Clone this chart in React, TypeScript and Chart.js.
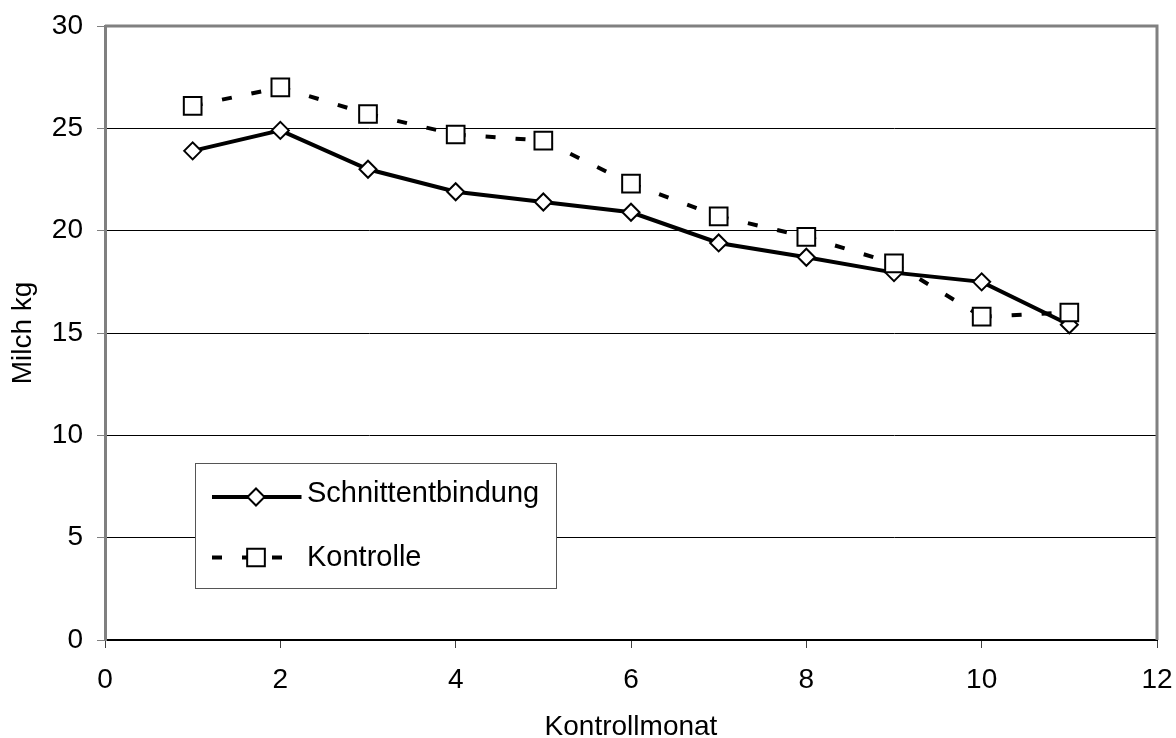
import React, { useEffect, useRef } from "react";
import { Chart, registerables } from "chart.js";

Chart.register(...registerables);

// ---- data ----
const months = [1, 2, 3, 4, 5, 6, 7, 8, 9, 10, 11];
const schnittentbindung = [23.9, 24.9, 23.0, 21.9, 21.4, 20.9, 19.4, 18.7, 17.95, 17.5, 15.4];
const kontrolle = [26.1, 27.0, 25.7, 24.7, 24.4, 22.3, 20.7, 19.7, 18.4, 15.8, 16.0];
const seriesNames = ["Schnittentbindung", "Kontrolle"];
const xTitle = "Kontrollmonat";
const yTitle = "Milch kg";
const xTickRange = { min: 0, max: 12, step: 2 };
const yTickRange = { min: 0, max: 30, step: 5 };

const FONT = '"Liberation Sans", Arial, sans-serif';
const FONT_SIZE = 28;
const LEGEND_FONT_SIZE = 29;

function drawMarker(ctx: CanvasRenderingContext2D, style: string, x: number, y: number, r: number) {
  ctx.beginPath();
  if (style === "rectRot") {
    ctx.moveTo(x - r, y);
    ctx.lineTo(x, y - r);
    ctx.lineTo(x + r, y);
    ctx.lineTo(x, y + r);
    ctx.closePath();
  } else {
    const s = r * Math.SQRT1_2;
    ctx.rect(x - s, y - s, 2 * s, 2 * s);
  }
  ctx.fillStyle = "#fff";
  ctx.fill();
  ctx.lineWidth = 2;
  ctx.strokeStyle = "#000";
  ctx.setLineDash([]);
  ctx.stroke();
}

const framePlugin = {
  id: "frame",
  beforeDatasetsDraw(chart: any) {
    const { ctx, chartArea } = chart;
    ctx.save();
    ctx.strokeStyle = "#808080";
    ctx.lineWidth = 3;
    ctx.beginPath();
    ctx.moveTo(chartArea.left, chartArea.top);
    ctx.lineTo(chartArea.right, chartArea.top);
    ctx.lineTo(chartArea.right, chartArea.bottom);
    ctx.stroke();
    ctx.restore();
  },
};

const boxLegendPlugin = {
  id: "boxLegend",
  afterDraw(chart: any) {
    const { ctx, chartArea } = chart;
    const bx = Math.round(chartArea.left + 90) + 0.5;
    const by = Math.round(chartArea.top + 437) + 0.5;
    const bw = 361;
    const bh = 125;
    ctx.save();
    ctx.fillStyle = "#fff";
    ctx.fillRect(bx, by, bw, bh);
    ctx.strokeStyle = "#555";
    ctx.lineWidth = 1;
    ctx.strokeRect(bx, by, bw, bh);

    const lineRows = [by + 33.5, by + 94];
    const textRows = [by + 30.5, by + 94.5];
    const lx0 = bx + 16.5;
    const lx1 = bx + 106;
    const mx = bx + 60.5;
    chart.data.datasets.forEach((ds: any, i: number) => {
      const y = lineRows[i];
      ctx.beginPath();
      ctx.setLineDash(ds.borderDash || []);
      ctx.lineDashOffset = 0;
      ctx.lineCap = "butt";
      ctx.lineWidth = ds.borderWidth;
      ctx.strokeStyle = ds.borderColor;
      ctx.moveTo(lx0, y);
      ctx.lineTo(lx1, y);
      ctx.stroke();
      drawMarker(ctx, ds.pointStyle, mx, y, ds.pointRadius);
      ctx.fillStyle = "#000";
      ctx.font = `${LEGEND_FONT_SIZE}px ${FONT}`;
      ctx.textAlign = "left";
      ctx.textBaseline = "middle";
      ctx.fillText(ds.label, bx + 111.5, textRows[i]);
    });
    ctx.restore();
  },
};

function zeroPadding(scale: any) {
  scale.paddingLeft = 0;
  scale.paddingRight = 0;
  scale.paddingTop = 0;
  scale.paddingBottom = 0;
}

export default function App() {
  const canvasRef = useRef<HTMLCanvasElement | null>(null);

  useEffect(() => {
    const canvas = canvasRef.current;
    if (!canvas) return;
    const chart = new Chart(canvas, {
      type: "line",
      data: {
        datasets: [
          {
            label: seriesNames[0],
            data: months.map((m, i) => ({ x: m, y: schnittentbindung[i] })),
            borderColor: "#000",
            borderWidth: 4,
            borderDash: [],
            pointStyle: "rectRot",
            pointRadius: 8.5,
            pointBorderWidth: 2,
            pointBackgroundColor: "#fff",
            pointBorderColor: "#000",
            tension: 0,
            order: 2,
          } as any,
          {
            label: seriesNames[1],
            data: months.map((m, i) => ({ x: m, y: kontrolle[i] })),
            borderColor: "#000",
            borderWidth: 4,
            borderDash: [10, 20],
            borderCapStyle: "butt",
            segment: {
              borderDashOffset: (c: any) => c.p0DataIndex * 0.0001,
            },
            pointStyle: "rect",
            pointRadius: 12.5,
            pointBorderWidth: 2,
            pointBackgroundColor: "#fff",
            pointBorderColor: "#000",
            tension: 0,
            order: 1,
          } as any,
        ],
      },
      options: {
        responsive: false,
        devicePixelRatio: 1,
        animation: false,
        layout: { padding: { top: 26, right: 19, left: 0, bottom: 0 } },
        plugins: {
          legend: { display: false },
          tooltip: { enabled: false },
          title: { display: false },
        },
        scales: {
          x: {
            type: "linear",
            min: xTickRange.min,
            max: xTickRange.max,
            afterFit: (scale: any) => {
              scale.height = 98;
              zeroPadding(scale);
            },
            ticks: {
              stepSize: xTickRange.step,
              padding: 15,
              color: "#000",
              maxRotation: 0,
              font: { family: FONT, size: FONT_SIZE },
            },
            grid: {
              drawOnChartArea: false,
              drawTicks: true,
              tickLength: 8,
              tickColor: "#404040",
              tickWidth: 1,
            },
            border: { display: true, color: "#000", width: 2 },
            title: {
              display: true,
              text: xTitle,
              color: "#000",
              font: { family: FONT, size: FONT_SIZE, lineHeight: 0.8 },
              padding: { top: 0, bottom: 0 },
            },
          },
          y: {
            type: "linear",
            min: yTickRange.min,
            max: yTickRange.max,
            afterFit: (scale: any) => {
              scale.width = 105;
              zeroPadding(scale);
            },
            ticks: {
              stepSize: yTickRange.step,
              padding: 14,
              color: "#000",
              font: { family: FONT, size: FONT_SIZE },
            },
            grid: {
              color: "#000",
              lineWidth: 1,
              drawTicks: true,
              tickLength: 8,
              tickColor: "#808080",
              tickWidth: 1,
            },
            border: { display: true, color: "#808080", width: 3 },
            title: {
              display: true,
              text: yTitle,
              color: "#000",
              font: { family: FONT, size: FONT_SIZE },
              padding: { top: 6, bottom: 0 },
            },
          },
        },
      } as any,
      plugins: [framePlugin, boxLegendPlugin],
    });
    return () => chart.destroy();
  }, []);

  return (
    <div style={{ position: "absolute", left: 0, top: 0, width: 1176, height: 738, background: "#fff" }}>
      <canvas ref={canvasRef} width={1176} height={738} style={{ display: "block" }} />
    </div>
  );
}
